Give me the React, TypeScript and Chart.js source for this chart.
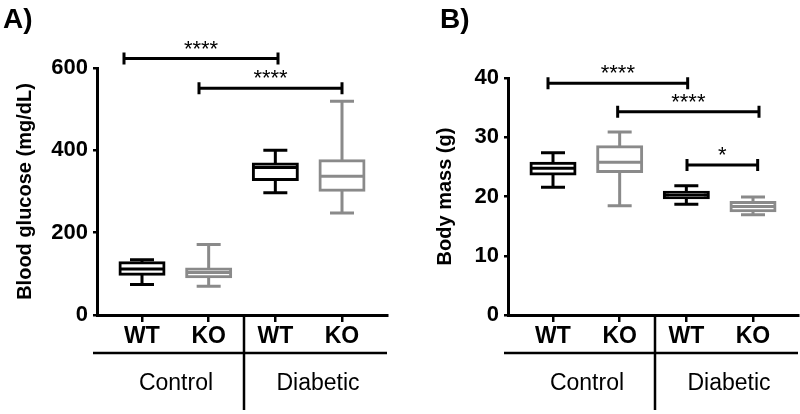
import React, { useEffect, useRef } from "react";
import { Chart, registerables } from "chart.js";

Chart.register(...registerables);

const FONT = "'Liberation Sans', Arial, Helvetica, sans-serif";
Chart.defaults.font.family = FONT;
Chart.defaults.color = "#000000";

const BLACK = "#000000";
const GRAY = "#8a8a8a";

// ---------- shared categories ----------
const categories = ["WT", "KO", "WT", "KO"];
const categoryPositions = [0, 1, 2, 3];
const boxColors = [BLACK, GRAY, BLACK, GRAY];
const groupNames = ["Control", "Diabetic"];
const groupLabelPositions = [0.51, 2.64];
const groupDividerPosition = 1.53;

// ---------- Panel A: blood glucose (mg/dL) ----------
const glucoseMin = [74, 70, 297, 248];
const glucoseQ1 = [99, 93, 329, 303];
const glucoseMedian = [112, 103, 358, 337];
const glucoseQ3 = [127, 112, 367, 375];
const glucoseMax = [134, 171, 400, 519];
const glucoseTicks = [0, 200, 400, 600];
const glucoseBracketFrom = [-0.27, 0.855];
const glucoseBracketTo = [2.04, 3.0];
const glucoseBracketY = [623, 551];
const glucoseBracketLabels = ["****", "****"];

// ---------- Panel B: body mass (g) ----------
const massMin = [21.55, 18.45, 18.7, 16.9];
const massQ1 = [23.8, 24.2, 19.8, 17.6];
const massMedian = [24.75, 25.8, 20.25, 18.3];
const massQ3 = [25.6, 28.4, 20.7, 19.0];
const massMax = [27.4, 30.9, 21.8, 19.9];
const massTicks = [0, 10, 20, 30, 40];
const massBracketFrom = [-0.075, 0.97, 2.01];
const massBracketTo = [2.02, 3.09, 3.07];
const massBracketY = [39.1, 34.3, 25.3];
const massBracketLabels = ["****", "****", "*"];

interface PanelSpec {
  panel: string;
  yTitle: string;
  yTicks: number[];
  min: number[];
  q1: number[];
  median: number[];
  q3: number[];
  max: number[];
  bracketFrom: number[];
  bracketTo: number[];
  bracketY: number[];
  bracketLabels: string[];
}

interface PanelLayout {
  yWidth: number;
  padTop: number;
  padRight: number;
  titlePad: number;
  panelX: number;
}

const glucoseSpec: PanelSpec = {
  panel: "A)",
  yTitle: "Blood glucose (mg/dL)",
  yTicks: glucoseTicks,
  min: glucoseMin,
  q1: glucoseQ1,
  median: glucoseMedian,
  q3: glucoseQ3,
  max: glucoseMax,
  bracketFrom: glucoseBracketFrom,
  bracketTo: glucoseBracketTo,
  bracketY: glucoseBracketY,
  bracketLabels: glucoseBracketLabels,
};

const massSpec: PanelSpec = {
  panel: "B)",
  yTitle: "Body mass (g)",
  yTicks: massTicks,
  min: massMin,
  q1: massQ1,
  median: massMedian,
  q3: massQ3,
  max: massMax,
  bracketFrom: massBracketFrom,
  bracketTo: massBracketTo,
  bracketY: massBracketY,
  bracketLabels: massBracketLabels,
};

const BOX_W = 44;
const CAP_HALF = 12;
const LINE_W = 3;

const boxExtrasPlugin = {
  id: "boxExtras",
  afterDatasetsDraw(chart: any, _args: any, opts: any) {
    const spec: PanelSpec = opts.spec;
    const { ctx } = chart;
    const x = chart.scales.x;
    const y = chart.scales.y;
    ctx.save();
    ctx.lineWidth = LINE_W;
    ctx.lineCap = "butt";
    categoryPositions.forEach((pos, i) => {
      const cx = x.getPixelForValue(pos);
      ctx.strokeStyle = boxColors[i];
      const yMin = y.getPixelForValue(spec.min[i]);
      const yQ1 = y.getPixelForValue(spec.q1[i]);
      const yMed = y.getPixelForValue(spec.median[i]);
      const yQ3 = y.getPixelForValue(spec.q3[i]);
      const yMax = y.getPixelForValue(spec.max[i]);
      ctx.beginPath();
      ctx.moveTo(cx, yQ3);
      ctx.lineTo(cx, yMax);
      ctx.moveTo(cx, yQ1);
      ctx.lineTo(cx, yMin);
      ctx.moveTo(cx - CAP_HALF, yMax);
      ctx.lineTo(cx + CAP_HALF, yMax);
      ctx.moveTo(cx - CAP_HALF, yMin);
      ctx.lineTo(cx + CAP_HALF, yMin);
      ctx.moveTo(cx - BOX_W / 2, yMed);
      ctx.lineTo(cx + BOX_W / 2, yMed);
      ctx.stroke();
    });
    ctx.restore();
  },
  afterDraw(chart: any, _args: any, opts: any) {
    const spec: PanelSpec = opts.spec;
    const panelX: number = opts.panelX;
    const { ctx, chartArea } = chart;
    const x = chart.scales.x;
    const y = chart.scales.y;
    ctx.save();
    // significance brackets
    ctx.strokeStyle = BLACK;
    ctx.fillStyle = BLACK;
    ctx.lineWidth = LINE_W;
    spec.bracketY.forEach((v, i) => {
      const x1 = x.getPixelForValue(spec.bracketFrom[i]);
      const x2 = x.getPixelForValue(spec.bracketTo[i]);
      const by = y.getPixelForValue(v);
      ctx.beginPath();
      ctx.moveTo(x1, by);
      ctx.lineTo(x2, by);
      ctx.moveTo(x1, by - 6);
      ctx.lineTo(x1, by + 6);
      ctx.moveTo(x2, by - 6);
      ctx.lineTo(x2, by + 6);
      ctx.stroke();
      ctx.font = `22px ${FONT}`;
      ctx.textAlign = "center";
      ctx.textBaseline = "alphabetic";
      ctx.fillText(spec.bracketLabels[i], (x1 + x2) / 2, by - 3);
    });
    // group line and divider
    const bottom = chartArea.bottom;
    ctx.lineWidth = 2.5;
    ctx.beginPath();
    ctx.moveTo(chartArea.left - 4, bottom + 38);
    ctx.lineTo(chartArea.right, bottom + 38);
    const dx = x.getPixelForValue(groupDividerPosition);
    ctx.moveTo(dx, bottom + 2);
    ctx.lineTo(dx, bottom + 95);
    ctx.stroke();
    // group labels
    ctx.font = `23px ${FONT}`;
    ctx.textAlign = "center";
    ctx.textBaseline = "alphabetic";
    groupNames.forEach((g, i) => {
      ctx.fillText(g, x.getPixelForValue(groupLabelPositions[i]), bottom + 75);
    });
    // panel label
    ctx.font = `bold 28px ${FONT}`;
    ctx.textAlign = "left";
    ctx.fillText(spec.panel, panelX, 28);
    ctx.restore();
  },
};

function Panel({ spec, layout }: { spec: PanelSpec; layout: PanelLayout }) {
  const ref = useRef<HTMLCanvasElement>(null);
  useEffect(() => {
    if (!ref.current) return;
    const yMax = spec.yTicks[spec.yTicks.length - 1];
    const chart = new Chart(ref.current, {
      type: "bar",
      data: {
        datasets: [
          {
            data: categoryPositions.map((p, i) => ({ x: p, y: [spec.q1[i], spec.q3[i]] })) as any,
            backgroundColor: "#ffffff",
            borderColor: boxColors,
            borderWidth: LINE_W,
            borderSkipped: false,
            barThickness: BOX_W,
            inflateAmount: 1.5,
          } as any,
        ],
      },
      options: {
        responsive: false,
        animation: false,
        events: [],
        layout: { padding: { top: layout.padTop, right: layout.padRight, bottom: 0, left: 0 } },
        plugins: {
          legend: { display: false },
          tooltip: { enabled: false },
          boxExtras: { spec, panelX: layout.panelX },
        } as any,
        scales: {
          x: {
            type: "linear",
            offset: false,
            min: -0.675,
            max: 3.675,
            afterBuildTicks: (s: any) => {
              s.ticks = categoryPositions.map((v) => ({ value: v }));
            },
            afterFit: (s: any) => {
              s.height = 99;
            },
            ticks: {
              callback: (v: any) => {
                const idx = categoryPositions.indexOf(Number(v));
                return idx >= 0 ? categories[idx] : "";
              },
              font: { size: 23, weight: "bold" },
              color: BLACK,
              padding: 1,
              maxRotation: 0,
              autoSkip: false,
            },
            grid: { offset: false, drawOnChartArea: false, drawTicks: true, tickLength: 7, lineWidth: 2.5, color: BLACK },
            border: { display: true, width: 3, color: BLACK },
          },
          y: {
            type: "linear",
            min: spec.yTicks[0],
            max: yMax,
            afterBuildTicks: (s: any) => {
              s.ticks = spec.yTicks.map((v) => ({ value: v }));
            },
            afterFit: (s: any) => {
              s.width = layout.yWidth;
            },
            ticks: { font: { size: 22, weight: "bold" }, color: BLACK, padding: 5 },
            title: {
              display: true,
              text: spec.yTitle,
              font: { size: 20, weight: "bold" },
              color: BLACK,
              padding: { top: layout.titlePad, bottom: 0 },
            },
            grid: { drawOnChartArea: false, drawTicks: true, tickLength: 4, lineWidth: 2.5, color: BLACK },
            border: { display: true, width: 3, color: BLACK },
          },
        } as any,
      },
      plugins: [boxExtrasPlugin as any],
    });
    return () => chart.destroy();
  }, []);
  return <canvas ref={ref} width={400} height={414} style={{ display: "block" }} />;
}

export default function App() {
  return (
    <div
      style={{
        position: "absolute",
        left: 0,
        top: 0,
        width: 800,
        height: 414,
        display: "flex",
        background: "#ffffff",
      }}
    >
      <Panel spec={glucoseSpec} layout={{ yWidth: 97, padTop: 68, padRight: 13, titlePad: 13, panelX: 3 }} />
      <Panel spec={massSpec} layout={{ yWidth: 108, padTop: 78, padRight: 2, titlePad: 33, panelX: 40 }} />
    </div>
  );
}
